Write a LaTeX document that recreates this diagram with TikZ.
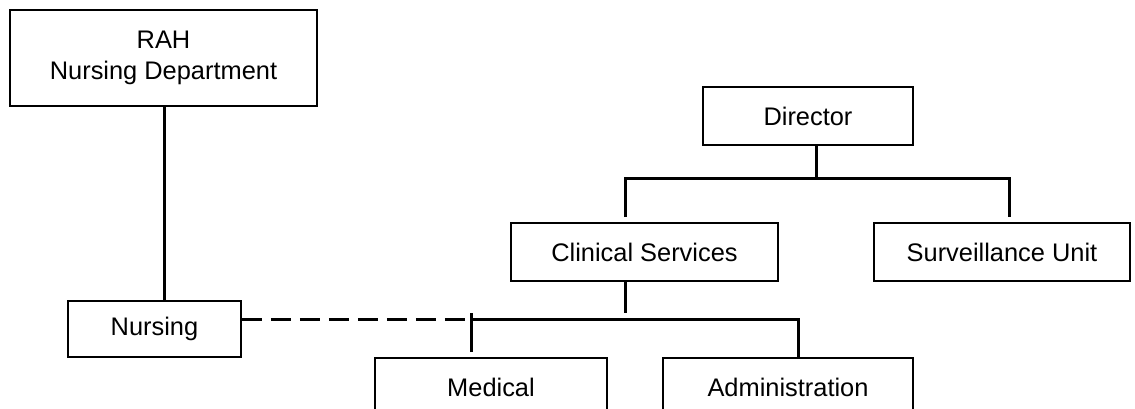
\documentclass[tikz,border=0pt]{standalone}
\usepackage{fontspec}
\setmainfont{Liberation Sans}
\usetikzlibrary{positioning, calc}

\begin{document}
\begin{tikzpicture}[x=1pt, y=-1pt, thick]
        \tikzset{unit/.style={draw, line width=1.6pt, inner sep=0pt, align=center,
                     minimum height=58pt, font=\fontsize{25.4}{31}\selectfont},
                 link/.style={line width=3pt},
                 dashlink/.style={line width=3pt, dash pattern=on 20pt off 9pt}}
        \useasboundingbox (0,0) rectangle (1135,409);
        \clip (0,0) rectangle (1135,409);

        % Nursing side
        \node[unit, minimum width=307pt, minimum height=96pt] (rah) at (163.5,58) {RAH\\Nursing Department};
        \node[unit, minimum width=173pt, minimum height=56pt] (nurs) at (154.5,329) {Nursing};

        % Director and first level
        \node[unit, minimum width=210pt] (dir) at (808,116) {Director};
        \node[unit, minimum width=267pt] (clin) at (644.5,252) {Clinical Services};
        \node[unit, minimum width=256pt] (surv) at (1002,252) {Surveillance Unit};

        % Second level
        \node[unit, minimum width=232pt] (med) at (491,387) {Medical};
        \node[unit, minimum width=250pt] (adm) at (788,387) {Administration};

        % Bus points
        \coordinate (dirbus) at (816,178);
        \coordinate (clinbus) at (625,319);

        % Links
        \draw[link] (rah.south -| 164,0) -- (nurs.north -| 164,0);
        \draw[link] (dir.south -| dirbus) -- (dirbus);
        \draw[link] (625,217) |- (dirbus) -| (1009,217);
        \draw[link] (clin.south -| clinbus) -- (625,313);
        \draw[link] (471,352) -- (471,313);
        \draw[link] (471,319) -- (798,319) -- (adm.north -| 798,0);
        \draw[dashlink] (nurs.east |- clinbus) -- (471,319);
\end{tikzpicture}
\end{document}
